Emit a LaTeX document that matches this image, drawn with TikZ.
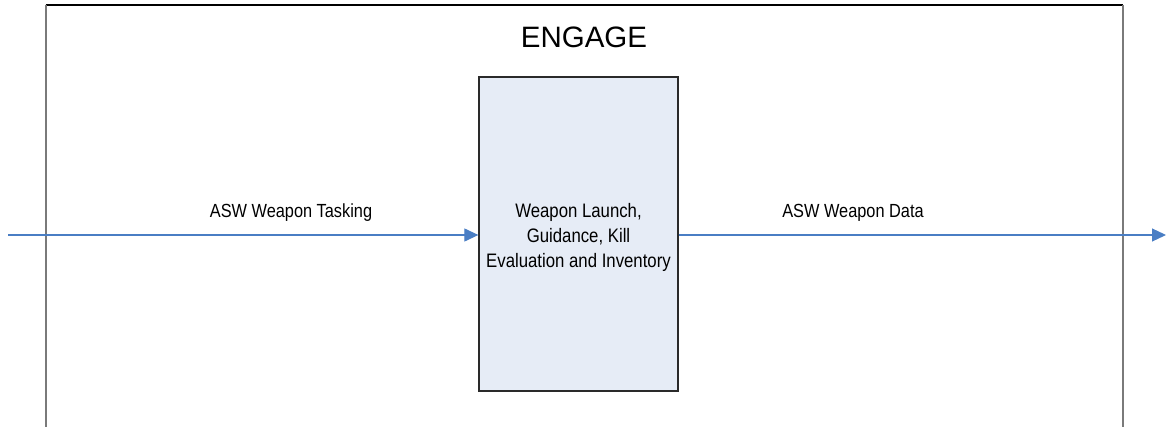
\documentclass[tikz,border=0pt]{standalone}
\usepackage{fontspec}
\setmainfont{Liberation Sans}
\newfontfamily\narrowfont[FakeStretch=0.86]{Liberation Sans}
\usetikzlibrary{arrows.meta}
\definecolor{arrowblue}{HTML}{4A7EC4}
\definecolor{boxfill}{HTML}{E6ECF6}
\definecolor{boxline}{HTML}{2A2A2A}
\definecolor{framegray}{HTML}{7A7A7A}
\tikzset{
  flow/.style={draw=arrowblue, line width=1.2pt, -{Triangle[length=14pt,width=13pt]}},
  lbl/.style={font=\narrowfont\fontsize{19}{22}\selectfont, inner sep=0pt},
  procbox/.style={draw=boxline, fill=boxfill, line width=1.3pt, minimum width=199pt, minimum height=314pt, inner sep=0pt},
  proctext/.style={inner sep=0pt, align=center, font=\narrowfont\fontsize{19.5}{25}\selectfont},
}
\begin{document}
\begin{tikzpicture}[x=1pt,y=-1pt]
\useasboundingbox (0,0) rectangle (1167,427);
% frame
\draw[black, line width=1.5pt] (45.5,5) -- (1122.5,5);
\draw[framegray, line width=2pt] (45.5,5) -- (45.5,427);
\draw[framegray, line width=2pt] (1122.5,5) -- (1122.5,427);
\node[inner sep=0pt, font=\fontsize{29.5}{32}\selectfont] (title) at (584,37) {ENGAGE};
\node[procbox] (proc) at (578.5,234) {};
\node[proctext] (proclabel) at (578.5,237.5) {Weapon Launch,\\Guidance, Kill\\Evaluation and Inventory};
\coordinate (in) at (8,235);
\coordinate (out) at (1166,235);
\draw[flow] (in) -- (proc.west |- in);
\draw[flow] (proc.east |- out) -- (out);
\node[lbl] (l1) at (291,213) {ASW Weapon Tasking};
\node[lbl] (l2) at (853,213) {ASW Weapon Data};
\end{tikzpicture}
\end{document}
